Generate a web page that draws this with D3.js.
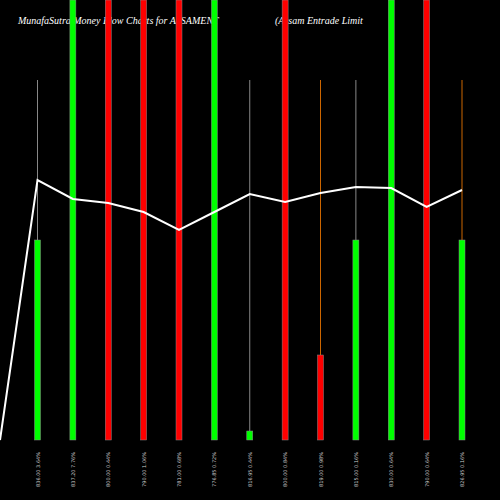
<!DOCTYPE html><html><head><script src="https://d3js.org/d3.v7.min.js"></script>
<style>body{margin:0;background:#000}</style></head><body><svg width="500" height="500"></svg>
<script>
const labels=["836.00 3.64%","837.20 7.76%","800.00 0.44%","790.00 1.06%","781.00 0.68%","776.85 0.72%","816.95 0.44%","800.00 0.84%","819.00 0.98%","815.00 0.16%","830.00 0.64%","790.00 0.64%","826.95 0.16%"];
const volumes=[200,440,440,440,440,440,9,440,85,200,440,440,200];
const colors=["#0f0","#0f0","#f00","#f00","#f00","#0f0","#0f0","#f00","#f00","#0f0","#0f0","#f00","#0f0"];
const wicks=[1,0,0,0,0,0,1,0,1,1,0,0,1];
const wickColors=["#888","#888","#888","#888","#888","#888","#888","#888","#c60","#888","#888","#888","#c60"];
const flow=[260,241,237,228,210,228,246,238,247,253,252,233,250];
const svg=d3.select("svg");
const x=d3.scaleLinear().domain([0,12]).range([37.5,462]);
const y=d3.scaleLinear().domain([0,440]).range([440,0]);
const yl=d3.scaleLinear().domain([0,440]).range([440,0]);
svg.append("text").attr("x",18).attr("y",24).attr("fill","#fff").attr("font-family","Liberation Serif").attr("font-style","italic").attr("font-size",10).text("MunafaSutra  Money Flow  Charts for ASSAMENT");
svg.append("text").attr("x",275).attr("y",24).attr("fill","#fff").attr("font-family","Liberation Serif").attr("font-style","italic").attr("font-size",10).text("(Assam Entrade   Limit");
labels.forEach((l,i)=>{
 if(wicks[i]) svg.append("line").attr("x1",x(i)).attr("x2",x(i)).attr("y1",80).attr("y2",y(volumes[i])).attr("stroke",wickColors[i]).attr("stroke-width",1);
 svg.append("rect").attr("x",x(i)-3).attr("width",6).attr("y",y(volumes[i])).attr("height",440-y(volumes[i])).attr("fill",colors[i]).attr("stroke","#888").attr("stroke-width",0.5);
 svg.append("text").attr("transform",`translate(${x(i)+2},${452}) rotate(-90)`).attr("text-anchor","end").attr("fill","#ccc").attr("font-size",5).attr("font-family","DejaVu Sans").text(l);
});
const pts=[[0,440]].concat(flow.map((v,i)=>[x(i),yl(v)]));
svg.append("path").attr("d",d3.line()(pts)).attr("fill","none").attr("stroke","#fff").attr("stroke-width",2);
</script></body></html>
